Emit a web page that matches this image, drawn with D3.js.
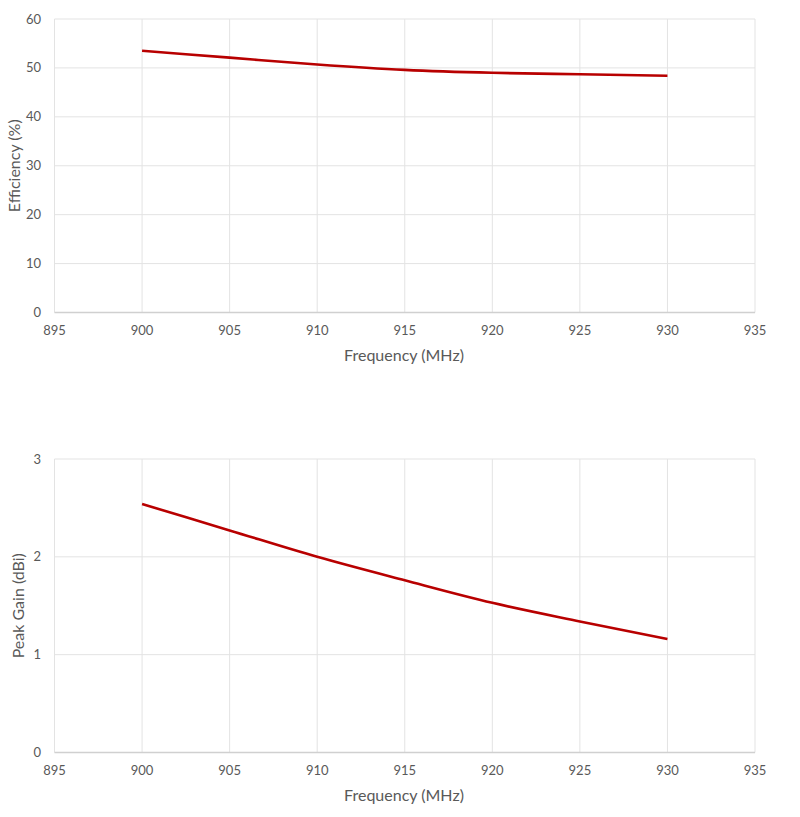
<!DOCTYPE html>
<html>
<head>
<meta charset="utf-8">
<script src="https://cdn.jsdelivr.net/npm/d3@7"></script>
<style>
  body { margin: 0; background: #fff; }
  svg text { font-family: Lato, "Open Sans", sans-serif; fill: #595959; }
</style>
</head>
<body>
<div id="charts"></div>
<script>
// data
const freqs = [900, 905, 910, 915, 920, 925, 930];
const efficiency = [53.5, 52.1, 50.7, 49.6, 49.0, 48.7, 48.4];
const peakGain = [2.54, 2.27, 2.00, 1.76, 1.53, 1.34, 1.16];
const xTicks = [895, 900, 905, 910, 915, 920, 925, 930, 935];
const effTicks = [0, 10, 20, 30, 40, 50, 60];
const gainTicks = [0, 1, 2, 3];

const W = 800, H = 817;
const svg = d3.select("#charts").append("svg")
    .attr("width", W)
    .attr("height", H);

function drawPanel(top, bottom, values, yMax, yTicks, yLabel, yLabelX) {
    const x = d3.scaleLinear().domain([895, 935]).range([54.5, 755]);
    const y = d3.scaleLinear().domain([0, yMax]).range([bottom, top]);
    const g = svg.append("g");

    // gridlines
    g.append("g").selectAll("line").data(xTicks).join("line")
        .attr("x1", d => x(d)).attr("x2", d => x(d))
        .attr("y1", top).attr("y2", bottom)
        .attr("stroke", "#e3e3e3").attr("stroke-width", 1);
    g.append("g").selectAll("line").data(yTicks).join("line")
        .attr("x1", x(895)).attr("x2", x(935))
        .attr("y1", d => y(d)).attr("y2", d => y(d))
        .attr("stroke", d => d === 0 ? "#d0d0d0" : "#e3e3e3")
        .attr("stroke-width", d => d === 0 ? 1.3 : 1);

    // tick labels
    g.append("g").selectAll("text").data(xTicks).join("text")
        .attr("x", d => x(d)).attr("y", bottom + 22)
        .attr("text-anchor", "middle")
        .style("font-size", "13px")
        .text(d => d);
    g.append("g").selectAll("text").data(yTicks).join("text")
        .attr("x", 41).attr("y", d => y(d) + 4.5)
        .attr("text-anchor", "end")
        .style("font-size", "13px")
        .text(d => d);

    // axis titles
    g.append("text")
        .attr("x", 404).attr("y", bottom + 48)
        .attr("text-anchor", "middle")
        .style("font-size", "16px")
        .text("Frequency (MHz)");
    g.append("text")
        .attr("transform", `translate(${yLabelX},${(top + bottom) / 2}) rotate(-90)`)
        .attr("text-anchor", "middle")
        .style("font-size", "16px")
        .text(yLabel);

    // the series
    const line = d3.line()
        .x((d, i) => x(freqs[i]))
        .y(d => y(d))
        .curve(d3.curveMonotoneX);
    g.append("path")
        .datum(values)
        .attr("fill", "none")
        .attr("stroke", "#b80000")
        .attr("stroke-width", 2.6)
        .attr("d", line);
}

drawPanel(19, 312.5, efficiency, 60, effTicks, "Efficiency (%)", 20);
drawPanel(459, 752.5, peakGain, 3, gainTicks, "Peak Gain (dBi)", 24);
</script>
</body>
</html>
